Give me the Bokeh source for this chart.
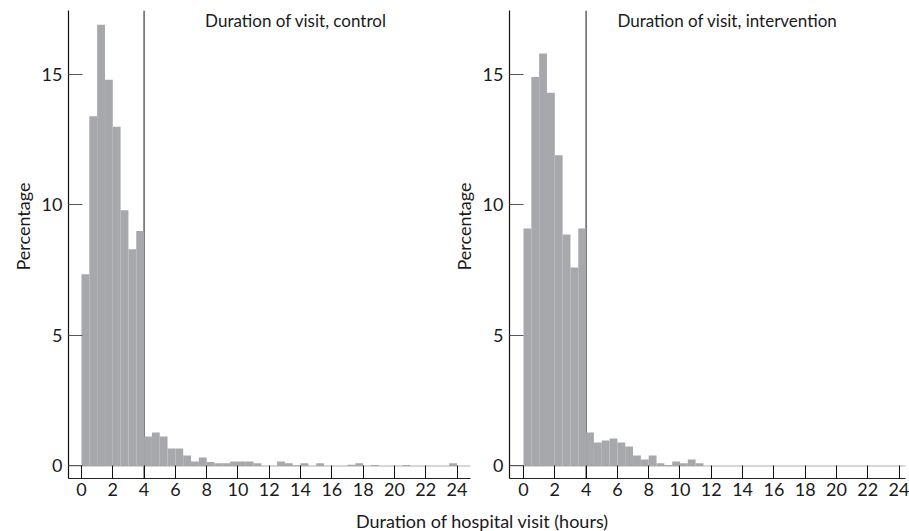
import numpy as np
from bokeh.plotting import figure
from bokeh.models import Span, Label, Div, FixedTicker, ColumnDataSource, Title
from bokeh.layouts import row, column
from bokeh.embed import file_html
from bokeh.resources import INLINE

# ---------------- data ----------------
bin_width = 0.5
bin_starts = list(np.arange(0, 24, bin_width))          # 48 half-hour bins, 0..24 h

control_pct = [
    7.35, 13.4, 16.9, 14.8, 13.0, 9.8, 8.3, 9.0,        # 0-4 h
    1.13, 1.28, 1.13, 0.67, 0.67, 0.40, 0.17, 0.32,     # 4-8 h
    0.15, 0.10, 0.10, 0.17, 0.17, 0.17, 0.10, 0.00,     # 8-12 h
    0.00, 0.17, 0.10, 0.03, 0.10, 0.00, 0.10, 0.00,     # 12-16 h
    0.00, 0.00, 0.05, 0.10, 0.00, 0.04, 0.00, 0.00,     # 16-20 h
    0.00, 0.04, 0.00, 0.00, 0.00, 0.00, 0.00, 0.10,     # 20-24 h
]
intervention_pct = [
    9.1, 14.9, 15.8, 14.3, 11.9, 8.87, 7.6, 9.1,        # 0-4 h
    1.28, 0.90, 0.98, 1.05, 0.90, 0.75, 0.40, 0.25,     # 4-8 h
    0.40, 0.10, 0.04, 0.17, 0.10, 0.25, 0.10, 0.00,     # 8-12 h
    0.00, 0.00, 0.00, 0.00, 0.00, 0.00, 0.00, 0.00,     # 12-16 h
    0.00, 0.00, 0.00, 0.00, 0.00, 0.00, 0.00, 0.00,     # 16-20 h
    0.00, 0.00, 0.00, 0.00, 0.00, 0.00, 0.00, 0.00,     # 20-24 h
]
x_ticks = [0, 2, 4, 6, 8, 10, 12, 14, 16, 18, 20, 22, 24]
y_ticks = [0, 5, 10, 15]
cutoff_hours = 4
panel_titles = ["Duration of visit, control", "Duration of visit, intervention"]
y_label = "Percentage"
x_label = "Duration of hospital visit (hours)"

# ---------------- style ----------------
FONT = "Lato"
BAR = "#a7a8ac"
TXT = "#1a1a1a"
FIG_H = 505
Y_RANGE = (-0.48, 17.45)


def make_panel(values, title, title_x, width, x_range, min_left, min_right):
    p = figure(width=width, height=FIG_H, x_range=x_range, y_range=Y_RANGE,
               output_backend="svg", toolbar_location=None,
               min_border_left=min_left, min_border_right=min_right,
               min_border_top=10, min_border_bottom=27)
    p.outline_line_color = None
    p.grid.visible = False
    p.background_fill_color = "white"

    src = ColumnDataSource(dict(left=bin_starts,
                                right=[b + bin_width for b in bin_starts],
                                top=values))
    p.add_layout(Span(location=0, dimension="width", line_color="#d6d6d6",
                      line_width=2, level="underlay"))
    p.add_layout(Span(location=cutoff_hours, dimension="height", line_color="#4a4a4a",
                      line_width=1.3, level="underlay"))
    p.quad(left="left", right="right", top="top", bottom=0, source=src,
           fill_color=BAR, line_color=None)

    p.xaxis.ticker = FixedTicker(ticks=x_ticks)
    p.yaxis.ticker = FixedTicker(ticks=y_ticks)
    for ax in (p.xaxis, p.yaxis):
        ax.major_tick_out = 0
        ax.minor_tick_line_color = None
        ax.major_label_text_font = FONT
        ax.major_label_text_font_size = "18px"
        ax.major_label_text_color = TXT
        ax.axis_line_width = 1.2
    p.xaxis.major_tick_in = 13
    p.xaxis.major_tick_line_color = "#111111"
    p.xaxis.axis_line_color = "#222222"
    p.xaxis.major_label_standoff = 4
    p.yaxis.major_tick_in = 14
    p.yaxis.major_tick_line_color = "#555555"
    p.yaxis.axis_line_color = "#111111"
    p.yaxis.major_label_standoff = 6

    # y-axis title, placed a little above the frame's middle as in the original
    p.add_layout(Title(text=y_label, align="left", offset=208, standoff=10,
                       text_font=FONT, text_font_size="18px",
                       text_font_style="normal", text_color=TXT), "left")

    p.add_layout(Label(x=title_x, y=17.07, text=title, text_baseline="middle",
                       text_font=FONT, text_font_size="17px", text_color=TXT))
    return p


left = make_panel(control_pct, panel_titles[0], 7.9, 478, (-0.83, 24.86), 68, 8)
right = make_panel(intervention_pct, panel_titles[1], 6.0, 464, (-0.895, 24.41), 64, 4)
# the right panel's left border slides over the end of the left panel's x axis
right.margin = (0, 0, 0, -33)
right.border_fill_alpha = 0

xlab = Div(
    text=(f'<div style="width:909px;box-sizing:border-box;padding-left:55px;padding-top:6px;'
          f'text-align:center;font-family:{FONT};font-size:18px;color:{TXT};'
          f'line-height:20px;white-space:nowrap">{x_label}</div>'),
    width=909, height=26, margin=(0, 0, 0, 0))

layout = column(row(left, right), xlab)

open("out.html", "w").write(file_html(layout, INLINE))
